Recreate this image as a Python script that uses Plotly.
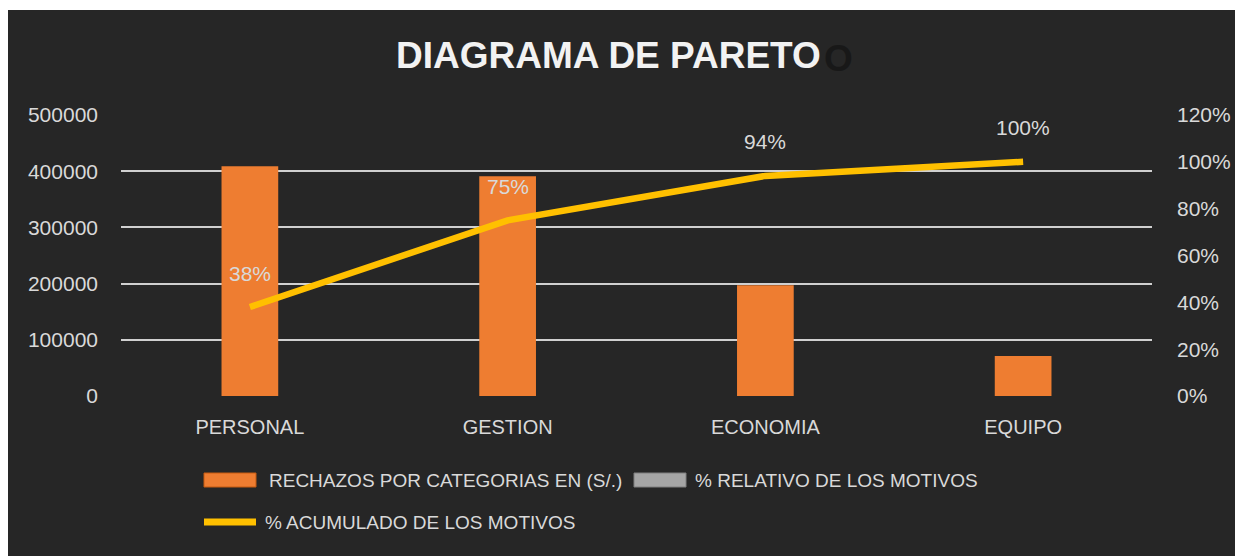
import plotly.graph_objects as go

# ---- data ----
categorias = ["PERSONAL", "GESTION", "ECONOMIA", "EQUIPO"]
rechazos = [409000, 391000, 197000, 71000]
acumulado = [0.38, 0.75, 0.94, 1.00]
acumulado_labels = ["38%", "75%", "94%", "100%"]
series_names = ["RECHAZOS POR CATEGORIAS EN (S/.)",
                "% RELATIVO DE LOS MOTIVOS",
                "% ACUMULADO DE LOS MOTIVOS"]
titulo = "DIAGRAMA DE PARETO"
y_ticks = [0, 100000, 200000, 300000, 400000, 500000]
y2_ticks = [0, 0.2, 0.4, 0.6, 0.8, 1.0, 1.2]

# ---- geometry ----
W, H = 1235, 556
ML, MR, MT, MB = 121, 83, 115, 160
PW, PH = W - ML - MR, H - MT - MB
BG = "#262626"
TXT = "#d9d9d9"
FONT = "Liberation Sans, Arial, sans-serif"


def px(x):
    return (x - ML) / PW


def py(y):
    return (H - MB - y) / PH


fig = go.Figure()
fig.add_trace(go.Bar(
    x=categorias, y=rechazos, name=series_names[0],
    marker=dict(color="#EE7D31", line=dict(width=0)),
    width=0.22, yaxis="y", showlegend=False,
))
fig.add_trace(go.Scatter(
    x=categorias, y=acumulado, name=series_names[2], mode="lines",
    line=dict(color="#FFC000", width=6.5), yaxis="y2", showlegend=False,
))

annotations = []
# faint shadow letter visible after the title in the reference
annotations.append(dict(
    x=px(838), y=py(59), xref="paper", yref="paper", text="O",
    showarrow=False, xanchor="center", yanchor="middle",
    font=dict(family=FONT, size=37, color="#181818", weight="bold"),
))
annotations.append(dict(
    x=px(608), y=py(56), xref="paper", yref="paper", text=titulo,
    showarrow=False, xanchor="center", yanchor="middle",
    font=dict(family=FONT, size=37, color="#f2f2f2", weight="bold"),
))
# data labels
for c, v, t in zip(categorias, acumulado, acumulado_labels):
    annotations.append(dict(
        x=c, y=v, xref="x", yref="y2", text=t, showarrow=False,
        yshift=34, xanchor="center", yanchor="middle",
        font=dict(family=FONT, size=21, color=TXT),
    ))
# legend texts
legend_text_pos = [(267, 480), (693, 480), (263, 522)]
for name, (lx, ly) in zip(series_names, legend_text_pos):
    annotations.append(dict(
        x=px(lx), y=py(ly), xref="paper", yref="paper", text=name,
        showarrow=False, xanchor="left", yanchor="middle",
        font=dict(family=FONT, size=19, color=TXT),
    ))

shapes = [
    # white outer strips (top and left edge of the original screenshot)
    dict(type="rect", xref="paper", yref="paper", x0=px(0), x1=px(W),
         y0=py(10), y1=py(0), fillcolor="white", line=dict(width=0)),
    dict(type="rect", xref="paper", yref="paper", x0=px(0), x1=px(8),
         y0=py(H), y1=py(0), fillcolor="white", line=dict(width=0)),
    # legend swatches
    dict(type="rect", xref="paper", yref="paper", x0=px(204), x1=px(256),
         y0=py(487), y1=py(473), fillcolor="#EE7D31",
         line=dict(color="#C55A11", width=1)),
    dict(type="rect", xref="paper", yref="paper", x0=px(634), x1=px(686),
         y0=py(487), y1=py(473), fillcolor="#A5A5A5",
         line=dict(color="#7F7F7F", width=1)),
    dict(type="line", xref="paper", yref="paper", x0=px(204), x1=px(256),
         y0=py(522), y1=py(522), line=dict(color="#FFC000", width=7)),
]

fig.update_layout(
    width=W, height=H, autosize=False,
    margin=dict(l=ML, r=MR, t=MT, b=MB, pad=0, autoexpand=False),
    paper_bgcolor=BG, plot_bgcolor=BG,
    font=dict(family=FONT, color=TXT),
    showlegend=False,
    xaxis=dict(
        type="category", showgrid=False, zeroline=False, showline=False,
        automargin=False,
        ticks="", tickfont=dict(size=20, color=TXT), ticklabelstandoff=17,
    ),
    yaxis=dict(
        range=[0, 500000], tickvals=y_ticks, tickformat="d",
        showgrid=True, gridcolor="#d0d0d0", gridwidth=1.5,
        zeroline=False, showline=False, ticks="", automargin=False,
        tickfont=dict(size=21, color=TXT), ticklabelstandoff=22,
    ),
    yaxis2=dict(
        range=[0, 1.2], tickvals=y2_ticks, tickformat=".0%",
        overlaying="y", side="right", showgrid=False, zeroline=False,
        showline=False, ticks="", automargin=False,
        tickfont=dict(size=21, color=TXT), ticklabelstandoff=24,
    ),
    annotations=annotations,
    shapes=shapes,
)

fig.write_html(
    "out.html",
    config={"displayModeBar": False, "responsive": False},
    post_script=(
        "document.body.style.margin='0';"
        "document.body.style.overflow='hidden';"
        "document.documentElement.style.overflow='hidden';"
        "document.body.style.background='" + BG + "';"
        "document.documentElement.style.background='" + BG + "';"
    ),
)
